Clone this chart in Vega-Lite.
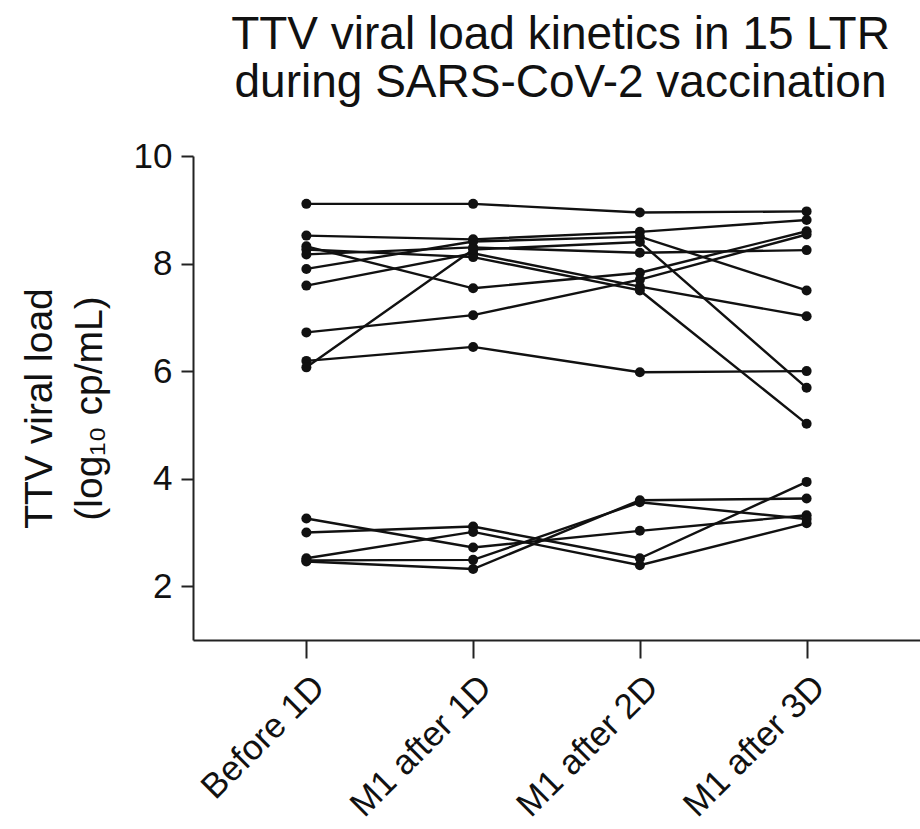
{
  "$schema": "https://vega.github.io/schema/vega-lite/v6.json",
  "autosize": "none",
  "width": 727,
  "height": 484,
  "padding": {"left": 193, "top": 156, "right": 0, "bottom": 189},
  "background": "white",
  "title": {
    "text": ["TTV viral load kinetics in 15 LTR", "during SARS-CoV-2 vaccination"],
    "font": "Liberation Sans",
    "fontSize": 46,
    "fontWeight": "normal",
    "color": "#111111",
    "lineHeight": 48,
    "anchor": "middle",
    "frame": "group",
    "dx": 4,
    "offset": 32
  },
  "config": {
    "view": {"stroke": null},
    "font": "Liberation Sans"
  },
  "data": {
    "values": [
      {"id": "A", "t": "Before 1D", "v": 9.11}, {"id": "A", "t": "M1 after 1D", "v": 9.11}, {"id": "A", "t": "M1 after 2D", "v": 8.95}, {"id": "A", "t": "M1 after 3D", "v": 8.97},
      {"id": "B", "t": "Before 1D", "v": 8.32}, {"id": "B", "t": "M1 after 1D", "v": 7.54}, {"id": "B", "t": "M1 after 2D", "v": 7.83}, {"id": "B", "t": "M1 after 3D", "v": 8.60},
      {"id": "C", "t": "Before 1D", "v": 6.72}, {"id": "C", "t": "M1 after 1D", "v": 7.04}, {"id": "C", "t": "M1 after 2D", "v": 7.70}, {"id": "C", "t": "M1 after 3D", "v": 8.54},
      {"id": "D", "t": "Before 1D", "v": 7.59}, {"id": "D", "t": "M1 after 1D", "v": 8.19}, {"id": "D", "t": "M1 after 2D", "v": 7.57}, {"id": "D", "t": "M1 after 3D", "v": 7.02},
      {"id": "E", "t": "Before 1D", "v": 8.26}, {"id": "E", "t": "M1 after 1D", "v": 8.12}, {"id": "E", "t": "M1 after 2D", "v": 7.50}, {"id": "E", "t": "M1 after 3D", "v": 5.02},
      {"id": "F", "t": "Before 1D", "v": 6.19}, {"id": "F", "t": "M1 after 1D", "v": 6.45}, {"id": "F", "t": "M1 after 2D", "v": 5.98}, {"id": "F", "t": "M1 after 3D", "v": 6.00},
      {"id": "G", "t": "Before 1D", "v": 8.52}, {"id": "G", "t": "M1 after 1D", "v": 8.45}, {"id": "G", "t": "M1 after 2D", "v": 8.59}, {"id": "G", "t": "M1 after 3D", "v": 8.81},
      {"id": "H", "t": "Before 1D", "v": 8.17}, {"id": "H", "t": "M1 after 1D", "v": 8.30}, {"id": "H", "t": "M1 after 2D", "v": 8.20}, {"id": "H", "t": "M1 after 3D", "v": 8.25},
      {"id": "I", "t": "Before 1D", "v": 7.90}, {"id": "I", "t": "M1 after 1D", "v": 8.41}, {"id": "I", "t": "M1 after 2D", "v": 8.50}, {"id": "I", "t": "M1 after 3D", "v": 7.50},
      {"id": "J", "t": "Before 1D", "v": 6.07}, {"id": "J", "t": "M1 after 1D", "v": 8.26}, {"id": "J", "t": "M1 after 2D", "v": 8.40}, {"id": "J", "t": "M1 after 3D", "v": 5.69},
      {"id": "K", "t": "Before 1D", "v": 3.26}, {"id": "K", "t": "M1 after 1D", "v": 2.72}, {"id": "K", "t": "M1 after 2D", "v": 3.03}, {"id": "K", "t": "M1 after 3D", "v": 3.32},
      {"id": "L", "t": "Before 1D", "v": 3.00}, {"id": "L", "t": "M1 after 1D", "v": 3.11}, {"id": "L", "t": "M1 after 2D", "v": 2.52}, {"id": "L", "t": "M1 after 3D", "v": 3.94},
      {"id": "M", "t": "Before 1D", "v": 2.52}, {"id": "M", "t": "M1 after 1D", "v": 3.01}, {"id": "M", "t": "M1 after 2D", "v": 2.39}, {"id": "M", "t": "M1 after 3D", "v": 3.17},
      {"id": "N", "t": "Before 1D", "v": 2.48}, {"id": "N", "t": "M1 after 1D", "v": 2.49}, {"id": "N", "t": "M1 after 2D", "v": 3.56}, {"id": "N", "t": "M1 after 3D", "v": 3.25},
      {"id": "O", "t": "Before 1D", "v": 2.46}, {"id": "O", "t": "M1 after 1D", "v": 2.32}, {"id": "O", "t": "M1 after 2D", "v": 3.60}, {"id": "O", "t": "M1 after 3D", "v": 3.63}
    ]
  },
  "encoding": {
    "x": {
      "field": "t",
      "type": "nominal",
      "sort": ["Before 1D", "M1 after 1D", "M1 after 2D", "M1 after 3D"],
      "scale": {"type": "point", "padding": 0.68},
      "axis": {
        "title": null,
        "labelAngle": -45,
        "labelFont": "Liberation Sans",
        "labelFontSize": 35,
        "labelColor": "#111111",
        "labelPadding": 11,
        "labelLimit": 0,
        "tickSize": 18,
        "tickWidth": 2,
        "tickColor": "#222222",
        "domainWidth": 2,
        "domainColor": "#222222"
      }
    },
    "y": {
      "field": "v",
      "type": "quantitative",
      "scale": {"domain": [1, 10], "nice": false, "zero": false},
      "axis": {
        "values": [2, 4, 6, 8, 10],
        "grid": false,
        "tickSize": 12,
        "tickWidth": 2,
        "tickColor": "#222222",
        "domainWidth": 2,
        "domainColor": "#222222",
        "labelFont": "Liberation Sans",
        "labelFontSize": 35,
        "labelColor": "#111111",
        "labelPadding": 9,
        "title": ["TTV viral load", "(log₁₀ cp/mL)"],
        "titleFont": "Liberation Sans",
        "titleFontSize": 39,
        "titleFontWeight": "normal",
        "titleColor": "#111111",
        "titleLineHeight": 50,
        "titleAngle": -90,
        "titleAlign": "center",
        "titleBaseline": "top",
        "titleX": -173,
        "titleY": 252
      }
    }
  },
  "layer": [
    {
      "mark": {"type": "line", "color": "#111111", "strokeWidth": 2.4},
      "encoding": {"detail": {"field": "id"}}
    },
    {
      "mark": {"type": "circle", "color": "#111111", "opacity": 1, "size": 100}
    }
  ]
}
